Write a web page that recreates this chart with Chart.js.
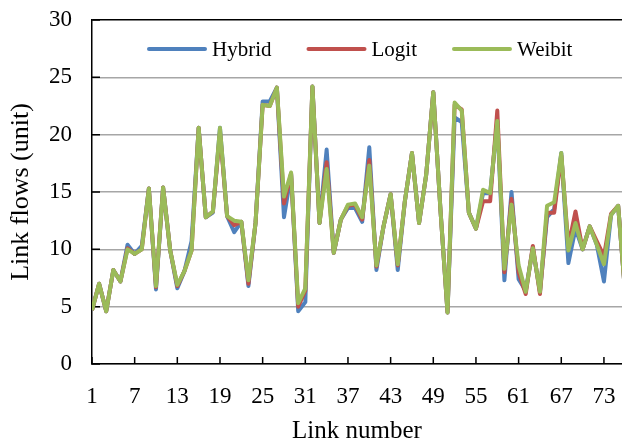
<!DOCTYPE html>
<html>
<head>
<meta charset="utf-8">
<script src="https://cdn.jsdelivr.net/npm/chart.js@4.4.1/dist/chart.umd.min.js"></script>
<style>
  html, body { margin: 0; padding: 0; background: #fff; }
  #wrap { width: 622px; height: 444px; }
</style>
</head>
<body>
<div id="wrap"><canvas id="flowChart"></canvas></div>
<script>
// link numbers (x categories)
const links = [1, 2, 3, 4, 5, 6, 7, 8, 9, 10, 11, 12, 13, 14, 15, 16, 17, 18, 19, 20,
  21, 22, 23, 24, 25, 26, 27, 28, 29, 30, 31, 32, 33, 34, 35, 36, 37, 38, 39, 40,
  41, 42, 43, 44, 45, 46, 47, 48, 49, 50, 51, 52, 53, 54, 55, 56, 57, 58, 59, 60,
  61, 62, 63, 64, 65, 66, 67, 68, 69, 70, 71, 72, 73, 74, 75, 76];

const hybrid = [4.7, 7.0, 4.6, 8.2, 7.2, 10.4, 9.6, 10.3, 15.3, 6.5,
  15.4, 9.9, 6.6, 8.1, 10.7, 20.6, 12.8, 13.2, 20.6, 12.9,
  11.5, 12.4, 6.8, 12.3, 22.9, 22.9, 24.1, 12.8, 16.6, 4.6,
  5.4, 24.2, 12.3, 18.7, 9.7, 12.6, 13.6, 13.6, 12.4, 18.9,
  8.2, 12.0, 14.8, 8.2, 14.2, 18.4, 12.3, 16.5, 23.7, 13.5,
  4.5, 21.5, 21.1, 13.2, 11.8, 14.9, 14.9, 21.2, 7.3, 15.0,
  7.4, 6.4, 10.1, 6.3, 12.8, 13.5, 18.4, 8.8, 11.8, 10.0,
  12.0, 10.4, 7.2, 13.0, 13.8, 6.0];

const logit = [4.7, 7.0, 4.6, 8.2, 7.2, 10.1, 9.6, 10.0, 15.3, 6.7,
  15.4, 9.9, 6.8, 8.1, 9.9, 20.6, 12.8, 13.3, 20.2, 12.9,
  12.1, 12.4, 7.0, 12.3, 22.6, 22.5, 24.1, 14.0, 16.6, 5.0,
  6.4, 24.2, 12.3, 17.6, 9.7, 12.6, 13.8, 13.9, 12.6, 17.8,
  8.5, 12.0, 14.8, 8.6, 14.2, 18.4, 12.3, 16.5, 23.7, 13.5,
  4.5, 22.6, 22.2, 13.2, 11.8, 14.2, 14.2, 22.1, 8.0, 14.4,
  8.0, 6.1, 10.3, 6.1, 13.2, 13.2, 18.2, 10.3, 13.3, 10.0,
  12.0, 10.7, 9.4, 13.1, 13.8, 6.0];

const weibit = [4.7, 7.0, 4.6, 8.2, 7.2, 10.0, 9.6, 10.0, 15.3, 6.8,
  15.4, 9.9, 6.9, 8.1, 9.9, 20.6, 12.8, 13.3, 20.6, 12.9,
  12.5, 12.4, 7.3, 12.3, 22.6, 22.5, 24.1, 14.6, 16.7, 5.3,
  6.6, 24.2, 12.3, 17.0, 9.7, 12.6, 13.9, 14.0, 12.8, 17.3,
  8.6, 12.0, 14.8, 8.7, 14.2, 18.4, 12.3, 16.5, 23.7, 13.5,
  4.5, 22.8, 22.1, 13.2, 11.8, 15.2, 14.9, 21.2, 8.3, 13.9,
  8.6, 6.3, 10.1, 6.3, 13.8, 14.1, 18.4, 9.9, 12.3, 10.0,
  12.0, 10.4, 8.7, 13.0, 13.8, 6.0];

const xTicks = [1, 7, 13, 19, 25, 31, 37, 43, 49, 55, 61, 67, 73];
const yTicks = [0, 5, 10, 15, 20, 25, 30];

const serif = '"Liberation Serif", "Times New Roman", serif';

// legend drawn inside the plot area, like the original
const insideLegend = {
  id: 'insideLegend',
  afterDraw(chart) {
    const ctx = chart.ctx;
    const y = chart.chartArea.top + 29;
    let x = 149;
    ctx.save();
    ctx.font = '21px ' + serif;
    ctx.textBaseline = 'middle';
    chart.data.datasets.forEach(ds => {
      ctx.strokeStyle = ds.borderColor;
      ctx.lineWidth = 4;
      ctx.lineCap = 'round';
      ctx.beginPath();
      ctx.moveTo(x, y);
      ctx.lineTo(x + 56, y);
      ctx.stroke();
      ctx.fillStyle = '#000';
      ctx.fillText(ds.label, x + 63, y + 1);
      x += 63 + ctx.measureText(ds.label).width + 37;
    });
    ctx.restore();
  }
};

// tick marks pointing into the plot
const innerTicks = {
  id: 'innerTicks',
  beforeDatasetsDraw(chart) {
    const { ctx, chartArea, scales } = chart;
    ctx.save();
    ctx.strokeStyle = '#000';
    ctx.lineWidth = 1.5;
    ctx.beginPath();
    scales.y.ticks.forEach(t => {
      const py = scales.y.getPixelForValue(t.value);
      ctx.moveTo(chartArea.left, py);
      ctx.lineTo(chartArea.left + 8, py);
    });
    scales.x.ticks.forEach(t => {
      const px = scales.x.getPixelForValue(t.value);
      ctx.moveTo(px, chartArea.bottom);
      ctx.lineTo(px, chartArea.bottom - 7);
    });
    ctx.stroke();
    ctx.restore();
  }
};

new Chart(document.getElementById('flowChart'), {
  type: 'line',
  data: {
    labels: links,
    datasets: [
      { label: 'Hybrid', data: hybrid, borderColor: '#4F81BD', backgroundColor: '#4F81BD', order: 3 },
      { label: 'Logit', data: logit, borderColor: '#C0504D', backgroundColor: '#C0504D', order: 2 },
      { label: 'Weibit', data: weibit, borderColor: '#9BBB59', backgroundColor: '#9BBB59', order: 1 }
    ]
  },
  options: {
    responsive: true,
    maintainAspectRatio: false,
    animation: false,
    layout: { padding: { top: 20, right: 0, bottom: 0, left: 0 } },
    elements: {
      point: { radius: 0 },
      line: { borderWidth: 4, tension: 0, borderJoinStyle: 'round' }
    },
    plugins: {
      legend: { display: false },
      tooltip: { enabled: false }
    },
    scales: {
      x: {
        type: 'linear',
        min: 1,
        max: 75.54,
        afterBuildTicks: s => { s.ticks = xTicks.map(v => ({ value: v })); },
        afterFit: s => { s.height = 80; s.paddingLeft = 0; s.paddingRight = 0; },
        grid: { display: false, drawTicks: false },
        border: { color: '#000', width: 1.5 },
        ticks: { color: '#000', font: { family: serif, size: 23 }, padding: 19, autoSkip: false, maxRotation: 0 },
        title: { display: true, text: 'Link number', color: '#000', font: { family: serif, size: 25, lineHeight: 1 }, padding: 0 }
      },
      y: {
        min: 0,
        max: 30,
        afterBuildTicks: s => { s.ticks = yTicks.map(v => ({ value: v })); },
        afterFit: s => { s.width = 92; s.paddingTop = 0; s.paddingBottom = 0; },
        grid: {
          color: c => (c.tick && c.tick.value === 30) ? '#000' : '#A6A6A6',
          lineWidth: 1.5,
          drawTicks: false
        },
        border: { color: '#000', width: 1.5 },
        ticks: { color: '#000', font: { family: serif, size: 23 }, padding: 20 },
        title: { display: true, text: 'Link flows (unit)', color: '#000', font: { family: serif, size: 26, lineHeight: 1 }, padding: { top: 8, bottom: 0 } }
      }
    }
  },
  plugins: [innerTicks, insideLegend]
});
</script>
</body>
</html>
